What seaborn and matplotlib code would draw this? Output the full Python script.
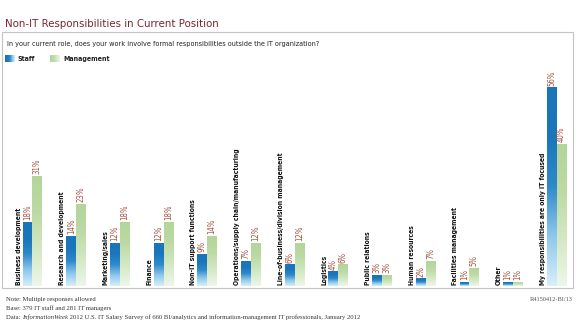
import numpy as np
import pandas as pd
import matplotlib
matplotlib.use("Agg")
import matplotlib.pyplot as plt
from matplotlib.patches import Rectangle
from matplotlib.colors import LinearSegmentedColormap
import seaborn as sns

categories = [
    "Business development",
    "Research and development",
    "Marketing/sales",
    "Finance",
    "Non-IT support functions",
    "Operations/supply chain/manufacturing",
    "Line-of-business/division management",
    "Logistics",
    "Public relations",
    "Human resources",
    "Facilities management",
    "Other",
    "My responsibilities are only IT focused",
]
staff = [18, 14, 12, 12, 9, 7, 6, 4, 3, 2, 1, 1, 56]
management = [31, 23, 18, 18, 14, 12, 12, 6, 3, 7, 5, 1, 40]
groups = ["Staff", "Management"]

df = pd.DataFrame({
    "category": categories * 2,
    "group": [groups[0]] * len(categories) + [groups[1]] * len(categories),
    "value": staff + management,
})

sns.set_theme(style="white")
plt.rcParams["font.family"] = ["DejaVu Sans"]
plt.rcParams["font.stretch"] = "condensed"

W, H = 587, 335
fig = plt.figure(figsize=(W / 100, H / 100), dpi=100)
fig.patch.set_facecolor("white")

def px(x, y):
    return x / W, 1 - y / H

# outer frame
fig.patches.append(Rectangle(px(2, 288), 571 / W, 256 / H, transform=fig.transFigure,
                             fill=False, edgecolor="#c4c4c4", linewidth=0.8))

ax = fig.add_axes([3 / W, (H - 286) / H, 569 / W, 246 / H])
sns.barplot(data=df, x="category", y="value", hue="group", hue_order=groups,
            order=categories, width=0.45, dodge=True, legend=False, ax=ax,
            palette={"Staff": "#1f7cc0", "Management": "#b5d79c"}, saturation=1)

xlim = (-0.675, 12.35)
ylim = (0, 69.5)

staff_cmap = LinearSegmentedColormap.from_list(
    "staff", ["#d8eefb", "#8ec8ec", "#2f8aca", "#1a76bb", "#1a74b8"])
mgmt_cmap = LinearSegmentedColormap.from_list(
    "mgmt", ["#eef7e9", "#d3e8c4", "#bcdaa5", "#b3d59a"])
grad = np.linspace(0, 1, 256).reshape(-1, 1)

value_color = "#a3523f"
bars = list(ax.patches)
n = len(categories)
for k, bar in enumerate(bars):
    x0, w, h = bar.get_x(), bar.get_width(), bar.get_height()
    cmap = staff_cmap if k < n else mgmt_cmap
    ax.imshow(grad, extent=[x0, x0 + w, 0, h], origin="lower", aspect="auto",
              cmap=cmap, zorder=2, interpolation="bilinear")
    bar.set_alpha(0)
    ax.text(x0 + w / 2, h + 0.6, f"{int(round(h))}%", rotation=90, ha="center",
            va="bottom", fontsize=5.6, color=value_color, zorder=3)

for i, cat in enumerate(categories):
    ax.text(i - 0.32, 0.4, cat, rotation=90, ha="center", va="bottom",
            fontsize=4.9, fontweight="bold", color="#111111", zorder=3)

ax.set_xlim(*xlim)
ax.set_ylim(*ylim)
ax.set_axis_off()

# title, question and legend
fig.text(*px(5, 27), "Non-IT Responsibilities in Current Position", fontsize=8.2,
         color="#7a2430", ha="left", va="baseline")
fig.text(*px(7, 46), "In your current role, does your work involve formal responsibilities outside the IT organization?",
         fontsize=5.2, color="#222222", ha="left", va="baseline")

for (x, label, cmap) in [(5, "Staff", staff_cmap), (50, "Management", mgmt_cmap)]:
    sax = fig.add_axes([x / W, (H - 62) / H, 10 / W, 7 / H])
    sax.imshow(np.linspace(1, 0, 64).reshape(1, -1), aspect="auto", cmap=cmap)
    sax.set_axis_off()
    fig.text(*px(x + 13, 61), label, fontsize=5.0, fontweight="bold", color="#222222",
             ha="left", va="baseline")

serif = ["Liberation Serif", "DejaVu Serif"]
fs = 4.75
fig.text(*px(6, 301), "Note: Multiple responses allowed", fontsize=fs, family=serif,
         color="#333333", va="baseline", stretch="normal")
fig.text(*px(6, 310), "Base: 379 IT staff and 281 IT managers", fontsize=fs, family=serif,
         color="#333333", va="baseline", stretch="normal")

# data source line, with the publication name set in italics
renderer = fig.canvas.get_renderer()
x_cursor = 6
for piece, style in [("Data: ", "normal"), ("InformationWeek", "italic"),
                     (" 2012 U.S. IT Salary Survey of 660 BI/analytics and information-management IT professionals, January 2012", "normal")]:
    t = fig.text(*px(x_cursor, 319), piece, fontsize=fs, family=serif, style=style,
                 color="#333333", va="baseline", stretch="normal")
    bb = t.get_window_extent(renderer=renderer)
    x_cursor += bb.width

fig.text(*px(573, 301), "R4150412-BI/13", fontsize=4.6, family=serif, color="#555555",
         ha="right", va="baseline", stretch="normal")

fig.savefig("out.png", dpi=100)
